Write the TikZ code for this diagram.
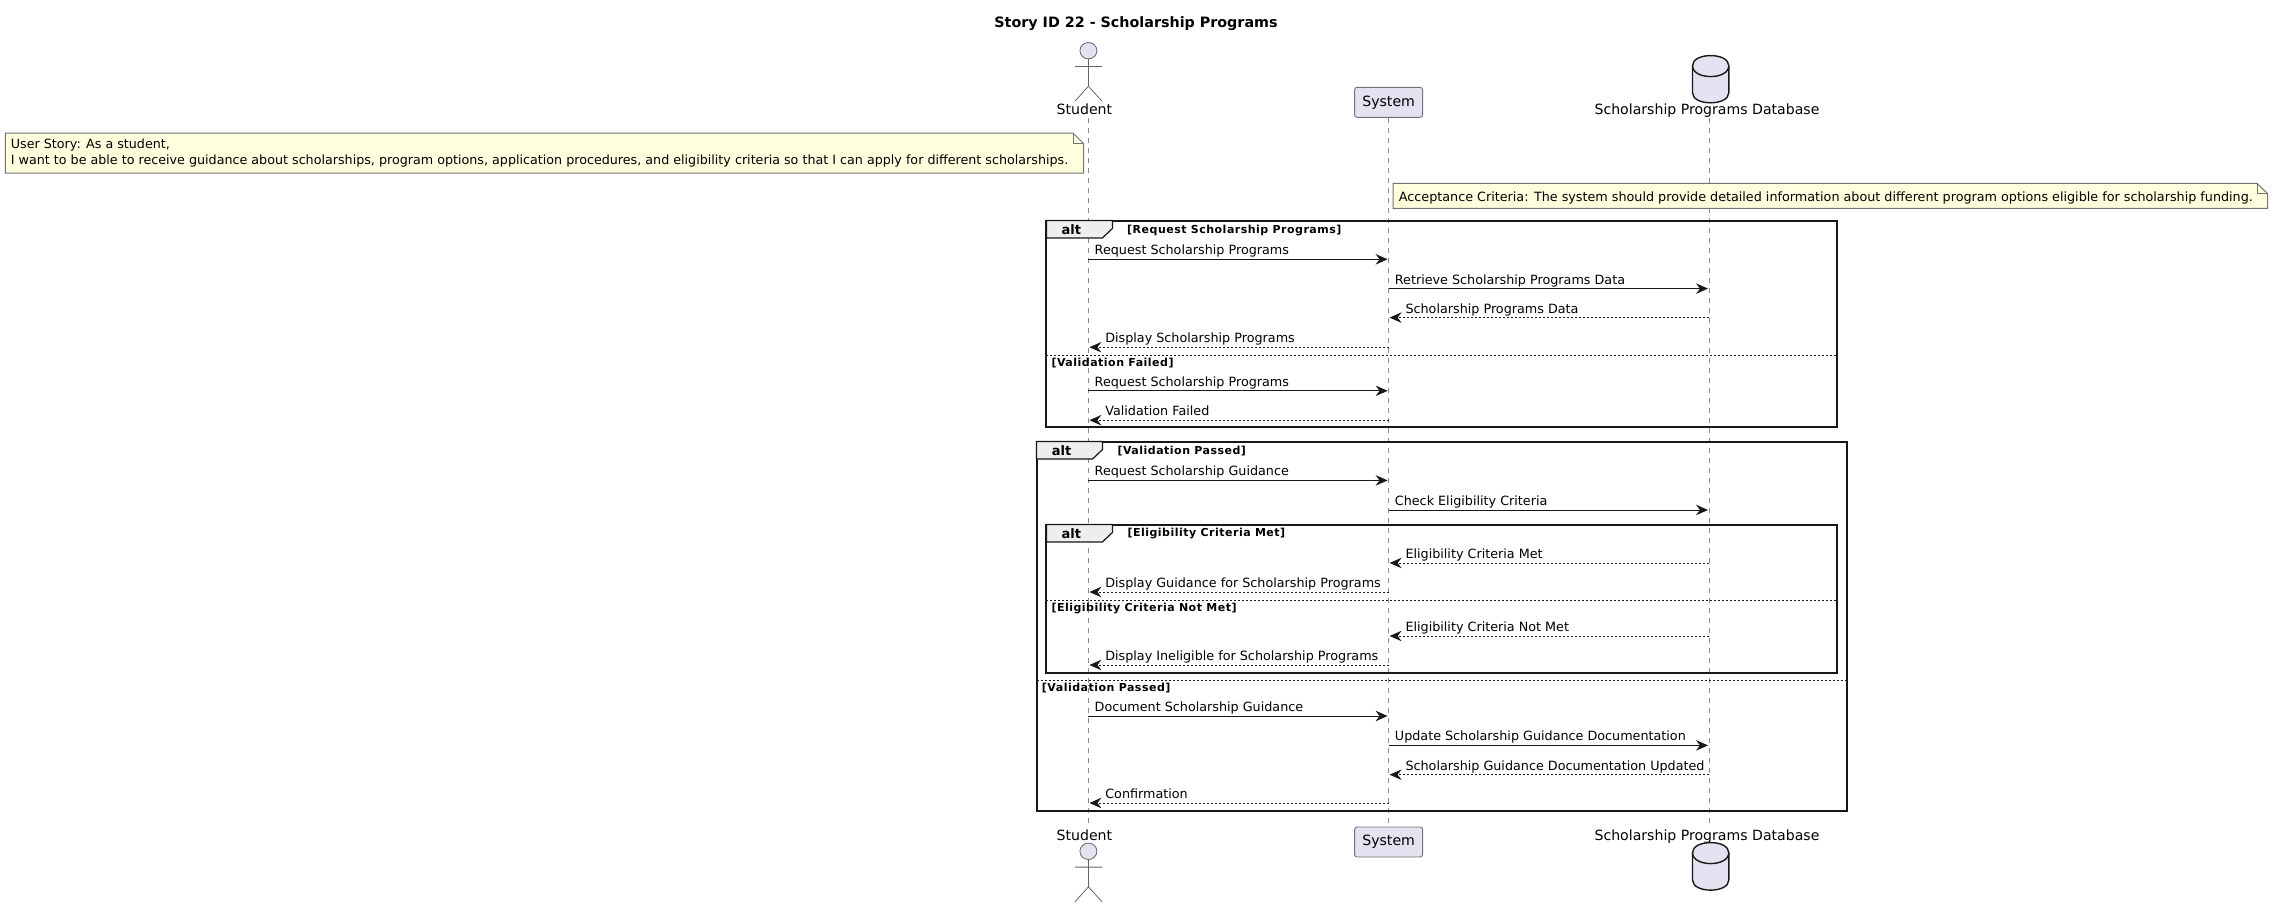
\documentclass[tikz,border=0pt]{standalone}
\usepackage{fontspec}
\setmainfont{DejaVu Sans}
\newfontfamily\guardfont[LetterSpace=4.5]{DejaVu Sans}
\usetikzlibrary{
    arrows.meta,
    positioning
}
\definecolor{partfill}{HTML}{E2E2F0}
\definecolor{notefill}{HTML}{FEFFDD}
\definecolor{tabfill}{HTML}{EEEEEE}
\definecolor{inkdark}{HTML}{181818}
\tikzset{
    txtbase/.style={inner sep=0pt, anchor=base west, font=\fontsize{12.75}{15.3}\selectfont, text=black},
    parttxt/.style={inner sep=0pt, anchor=base, font=\fontsize{14.1}{16}\selectfont, text=black},
    msgtxt/.style={txtbase, pos=0, xshift=5.8pt, yshift=4.6pt},
    rettxt/.style={txtbase, pos=1, xshift=16.4pt, yshift=4.6pt},
    solidmsg/.style={draw=inkdark, line width=1pt, -{Stealth[length=12pt, width=10.5pt, inset=4pt]}, shorten >=1pt},
    dashmsg/.style={solidmsg, dash pattern=on 2pt off 2pt},
    guardtxt/.style={inner sep=0pt, anchor=base west, font=\guardfont\fontsize{11}{13}\selectfont\bfseries},
    lifeline/.style={draw=black!45, line width=.8pt, dash pattern=on 5pt off 5pt},
    partbox/.style={draw=black!55, line width=.9pt, fill=partfill, rounded corners=2.5pt, minimum width=68pt, minimum height=30pt, inner sep=0pt, font=\fontsize{14.1}{16}\selectfont},
    actorline/.style={draw=black!60, line width=.8pt},
    notebox/.style={draw=black!55, line width=1pt, fill=notefill},
    altframe/.style={draw=inkdark, line width=2pt},
    alttab/.style={draw=inkdark, line width=1.2pt, fill=tabfill},
    divider/.style={draw=inkdark, line width=1pt, dash pattern=on 2pt off 2pt},
    dbshape/.style={draw=inkdark, line width=1.4pt, fill=partfill}
}
\begin{document}
\begin{tikzpicture}[x=1pt, y=-1pt]
    \useasboundingbox (0, 0) rectangle (2273, 907);

    \node[inner sep=0pt, anchor=base, font=\fontsize{14.3}{16}\selectfont\bfseries] (title) at (1136, 28) {Story ID 22 - Scholarship Programs};

    % participants
    \node[partbox] (sysTop) at (1388.6, 102.3) {System};
    \node[partbox] (sysBot) at (1388.6, 842) {System};
    \node[parttxt] (stuTop) at (1084.4, 114.5) {Student};
    \node[parttxt] (stuBot) at (1084.4, 840.5) {Student};
    \node[parttxt] (dbTop) at (1707, 114.5) {Scholarship Programs Database};
    \node[parttxt] (dbBot) at (1707, 840.5) {Scholarship Programs Database};

    \coordinate (stuA) at (1088.4, 118);
    \coordinate (stuB) at (1088.4, 826);
    \coordinate (dbA) at (1709, 118);
    \coordinate (dbB) at (1709, 826);

    \draw[lifeline] (stuA) -- (stuB);
    \draw[lifeline] (sysTop) -- (sysBot);
    \draw[lifeline] (dbA) -- (dbB);

    % actors, head at the given height
    \foreach \yh in {50.7, 851.3} {
        \draw[actorline, fill=partfill] (1088.4, \yh) ellipse (8.5 and 8.2);
        \draw[actorline]
        (1088.4, \yh+8.2) -- (1088.4, \yh+35.5)
        (1075, \yh+15.8) -- (1102, \yh+15.8)
        (1075, \yh+50.5) -- (1088.4, \yh+35.5) -- (1102, \yh+50.5);
    }

    % database, top and bottom
    \foreach \yt/\yb in {55.7/102.7, 842.7/890} {
        \draw[dbshape] (1692.5, \yt+10) .. controls (1692.5, \yt-3.5) and (1728.8, \yt-3.5) .. (1728.8, \yt+10)
        -- (1728.8, \yb-10) .. controls (1728.8, \yb+3.5) and (1692.5, \yb+3.5) .. (1692.5, \yb-10) -- cycle;
        \draw[dbshape, fill=none] (1692.5, \yt+10) .. controls (1692.5, \yt+24.5) and (1728.8, \yt+24.5) .. (1728.8, \yt+10);
    }

    % notes
    \draw[notebox] (5.4, 133) -- (1073, 133) -- (1083.5, 143.5) -- (1083.5, 173) -- (5.4, 173) -- cycle;
    \draw[notebox, fill=none] (1073, 133) -- (1073, 143.5) -- (1083.5, 143.5);
    \node[txtbase, align=left, anchor=north west, font=\fontsize{12.7}{15.3}\selectfont] (storyNote) at (10.7, 139) {User Story: As a student,\\I want to be able to receive guidance about scholarships, program options, application procedures, and eligibility criteria so that I can apply for different scholarships.};
    \draw[notebox] (1393, 183.3) -- (2257, 183.3) -- (2267.6, 193.6) -- (2267.6, 208.3) -- (1393, 208.3) -- cycle;
    \draw[notebox, fill=none] (2257, 183.3) -- (2257, 193.6) -- (2267.6, 193.6);
    \node[txtbase] (critNote) at (1398.7, 201) {Acceptance Criteria: The system should provide detailed information about different program options eligible for scholarship funding.};

    % alt frames
    \foreach \xa/\ya/\xb/\yb in {1046.4/220.5/1836.7/427.3, 1036.5/441.5/1847/810.5, 1046.4/524.5/1836.7/672.5} {
        \draw[altframe] (\xa, \ya) rectangle (\xb, \yb);
        \draw[alttab] (\xa, \ya) -- ++(66, 0) -- ++(0, 8) -- ++(-10, 9.5) -- ++(-56, 0) -- cycle;
        \node[inner sep=0pt, anchor=base, font=\fontsize{13}{15}\selectfont\bfseries] at (\xa+25, \ya+14) {alt};
    }
    \coordinate (divA) at (1046.4, 355.3);
    \coordinate (divB) at (1046.4, 600.3);
    \coordinate (divC) at (1036.5, 680.3);
    \coordinate (divAe) at (1836.7, 355.3);
    \coordinate (divBe) at (1836.7, 600.3);
    \coordinate (divCe) at (1847, 680.3);
    \draw[divider] (divA) -- (divAe);
    \draw[divider] (divB) -- (divBe);
    \draw[divider] (divC) -- (divCe);

    \node[guardtxt] (g1) at (1127, 233.4) {[Request Scholarship Programs]};
    \node[guardtxt] (g2) at (1051.3, 366) {[Validation Failed]};
    \node[guardtxt] (g3) at (1117.3, 454.3) {[Validation Passed]};
    \node[guardtxt] (g4) at (1127.3, 536.6) {[Eligibility Criteria Met]};
    \node[guardtxt] (g5) at (1051.3, 611.5) {[Eligibility Criteria Not Met]};
    \node[guardtxt] (g6) at (1041.7, 691.5) {[Validation Passed]};

    % message heights
    \foreach \msgname/\ym in {m1/259.3, m2/288.6, m3/317.6, m4/347.2, m5/390.8, m6/420.2, m7/480.4, m8/510, m9/563, m10/592, m11/636, m12/665, m13/716, m14/745.4, m15/774.7, m16/803} {
        \coordinate (\msgname) at (0, \ym);
    }

    \draw[solidmsg] (stuA |- m1) -- node[msgtxt] (t1) {Request Scholarship Programs} (sysTop |- m1);
    \draw[solidmsg] (sysTop |- m2) -- node[msgtxt] (t2) {Retrieve Scholarship Programs Data} (dbA |- m2);
    \draw[dashmsg] (dbA |- m3) -- node[rettxt] (t3) {Scholarship Programs Data} (sysTop |- m3);
    \draw[dashmsg] (sysTop |- m4) -- node[rettxt] (t4) {Display Scholarship Programs} (stuA |- m4);
    \draw[solidmsg] (stuA |- m5) -- node[msgtxt] (t5) {Request Scholarship Programs} (sysTop |- m5);
    \draw[dashmsg] (sysTop |- m6) -- node[rettxt] (t6) {Validation Failed} (stuA |- m6);
    \draw[solidmsg] (stuA |- m7) -- node[msgtxt] (t7) {Request Scholarship Guidance} (sysTop |- m7);
    \draw[solidmsg] (sysTop |- m8) -- node[msgtxt] (t8) {Check Eligibility Criteria} (dbA |- m8);
    \draw[dashmsg] (dbA |- m9) -- node[rettxt] (t9) {Eligibility Criteria Met} (sysTop |- m9);
    \draw[dashmsg] (sysTop |- m10) -- node[rettxt] (t10) {Display Guidance for Scholarship Programs} (stuA |- m10);
    \draw[dashmsg] (dbA |- m11) -- node[rettxt] (t11) {Eligibility Criteria Not Met} (sysTop |- m11);
    \draw[dashmsg] (sysTop |- m12) -- node[rettxt] (t12) {Display Ineligible for Scholarship Programs} (stuA |- m12);
    \draw[solidmsg] (stuA |- m13) -- node[msgtxt] (t13) {Document Scholarship Guidance} (sysTop |- m13);
    \draw[solidmsg] (sysTop |- m14) -- node[msgtxt] (t14) {Update Scholarship Guidance Documentation} (dbA |- m14);
    \draw[dashmsg] (dbA |- m15) -- node[rettxt] (t15) {Scholarship Guidance Documentation Updated} (sysTop |- m15);
    \draw[dashmsg] (sysTop |- m16) -- node[rettxt] (t16) {Confirmation} (stuA |- m16);
\end{tikzpicture}
\end{document}
